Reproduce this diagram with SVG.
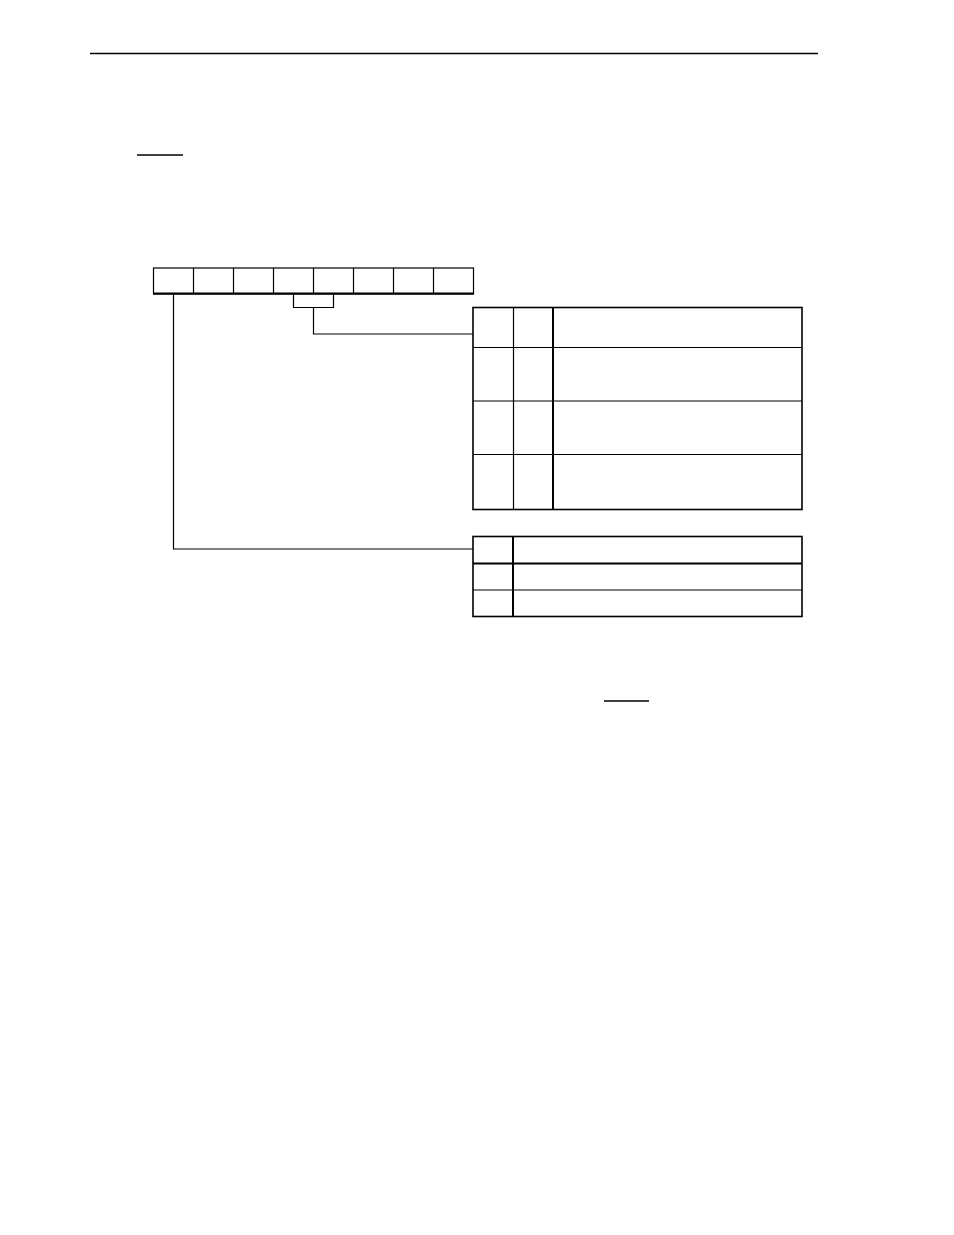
<svg xmlns="http://www.w3.org/2000/svg" width="954" height="1235" viewBox="0 0 954 1235">
<style>
.l{stroke:#000;fill:none;stroke-width:1.2}
.t{stroke:#000;fill:none;stroke-width:1.6}
.k{stroke:#000;fill:none;stroke-width:2}
</style>
<rect width="954" height="1235" fill="#fff"/>
<line class="t" x1="90" y1="53.5" x2="818" y2="53.5"/>
<line class="t" x1="137" y1="155" x2="183" y2="155"/>
<line class="t" x1="604" y1="701" x2="649" y2="701"/>
<g id="register">
<rect class="l" x="153.5" y="268" width="320" height="26"/>
<line class="k" x1="153" y1="293.5" x2="474" y2="293.5"/>
<line class="l" x1="193.5" y1="268" x2="193.5" y2="294"/>
<line class="l" x1="233.5" y1="268" x2="233.5" y2="294"/>
<line class="l" x1="273.5" y1="268" x2="273.5" y2="294"/>
<line class="l" x1="313.5" y1="268" x2="313.5" y2="294"/>
<line class="l" x1="353.5" y1="268" x2="353.5" y2="294"/>
<line class="l" x1="393.5" y1="268" x2="393.5" y2="294"/>
<line class="l" x1="433.5" y1="268" x2="433.5" y2="294"/>
</g>
<g id="connectors">
<polyline class="l" points="293.5,294 293.5,307.5 333.5,307.5 333.5,294"/>
<polyline class="l" points="313.5,307.5 313.5,334 473,334"/>
<polyline class="l" points="173.5,294 173.5,549 473,549"/>
</g>
<g id="table1">
<rect class="t" x="473" y="307.5" width="329" height="202"/>
<line class="l" x1="513.5" y1="307.5" x2="513.5" y2="509.5"/>
<line class="k" x1="553" y1="307.5" x2="553" y2="509.5"/>
<line class="l" x1="473" y1="347.5" x2="802" y2="347.5"/>
<line class="l" x1="473" y1="401" x2="802" y2="401"/>
<line class="l" x1="473" y1="454.5" x2="802" y2="454.5"/>
</g>
<g id="table2">
<rect class="t" x="473" y="536.5" width="329" height="80"/>
<line class="k" x1="513" y1="536.5" x2="513" y2="616.5"/>
<line class="k" x1="473" y1="563.5" x2="802" y2="563.5"/>
<line class="l" x1="473" y1="590" x2="802" y2="590"/>
</g>
</svg>
